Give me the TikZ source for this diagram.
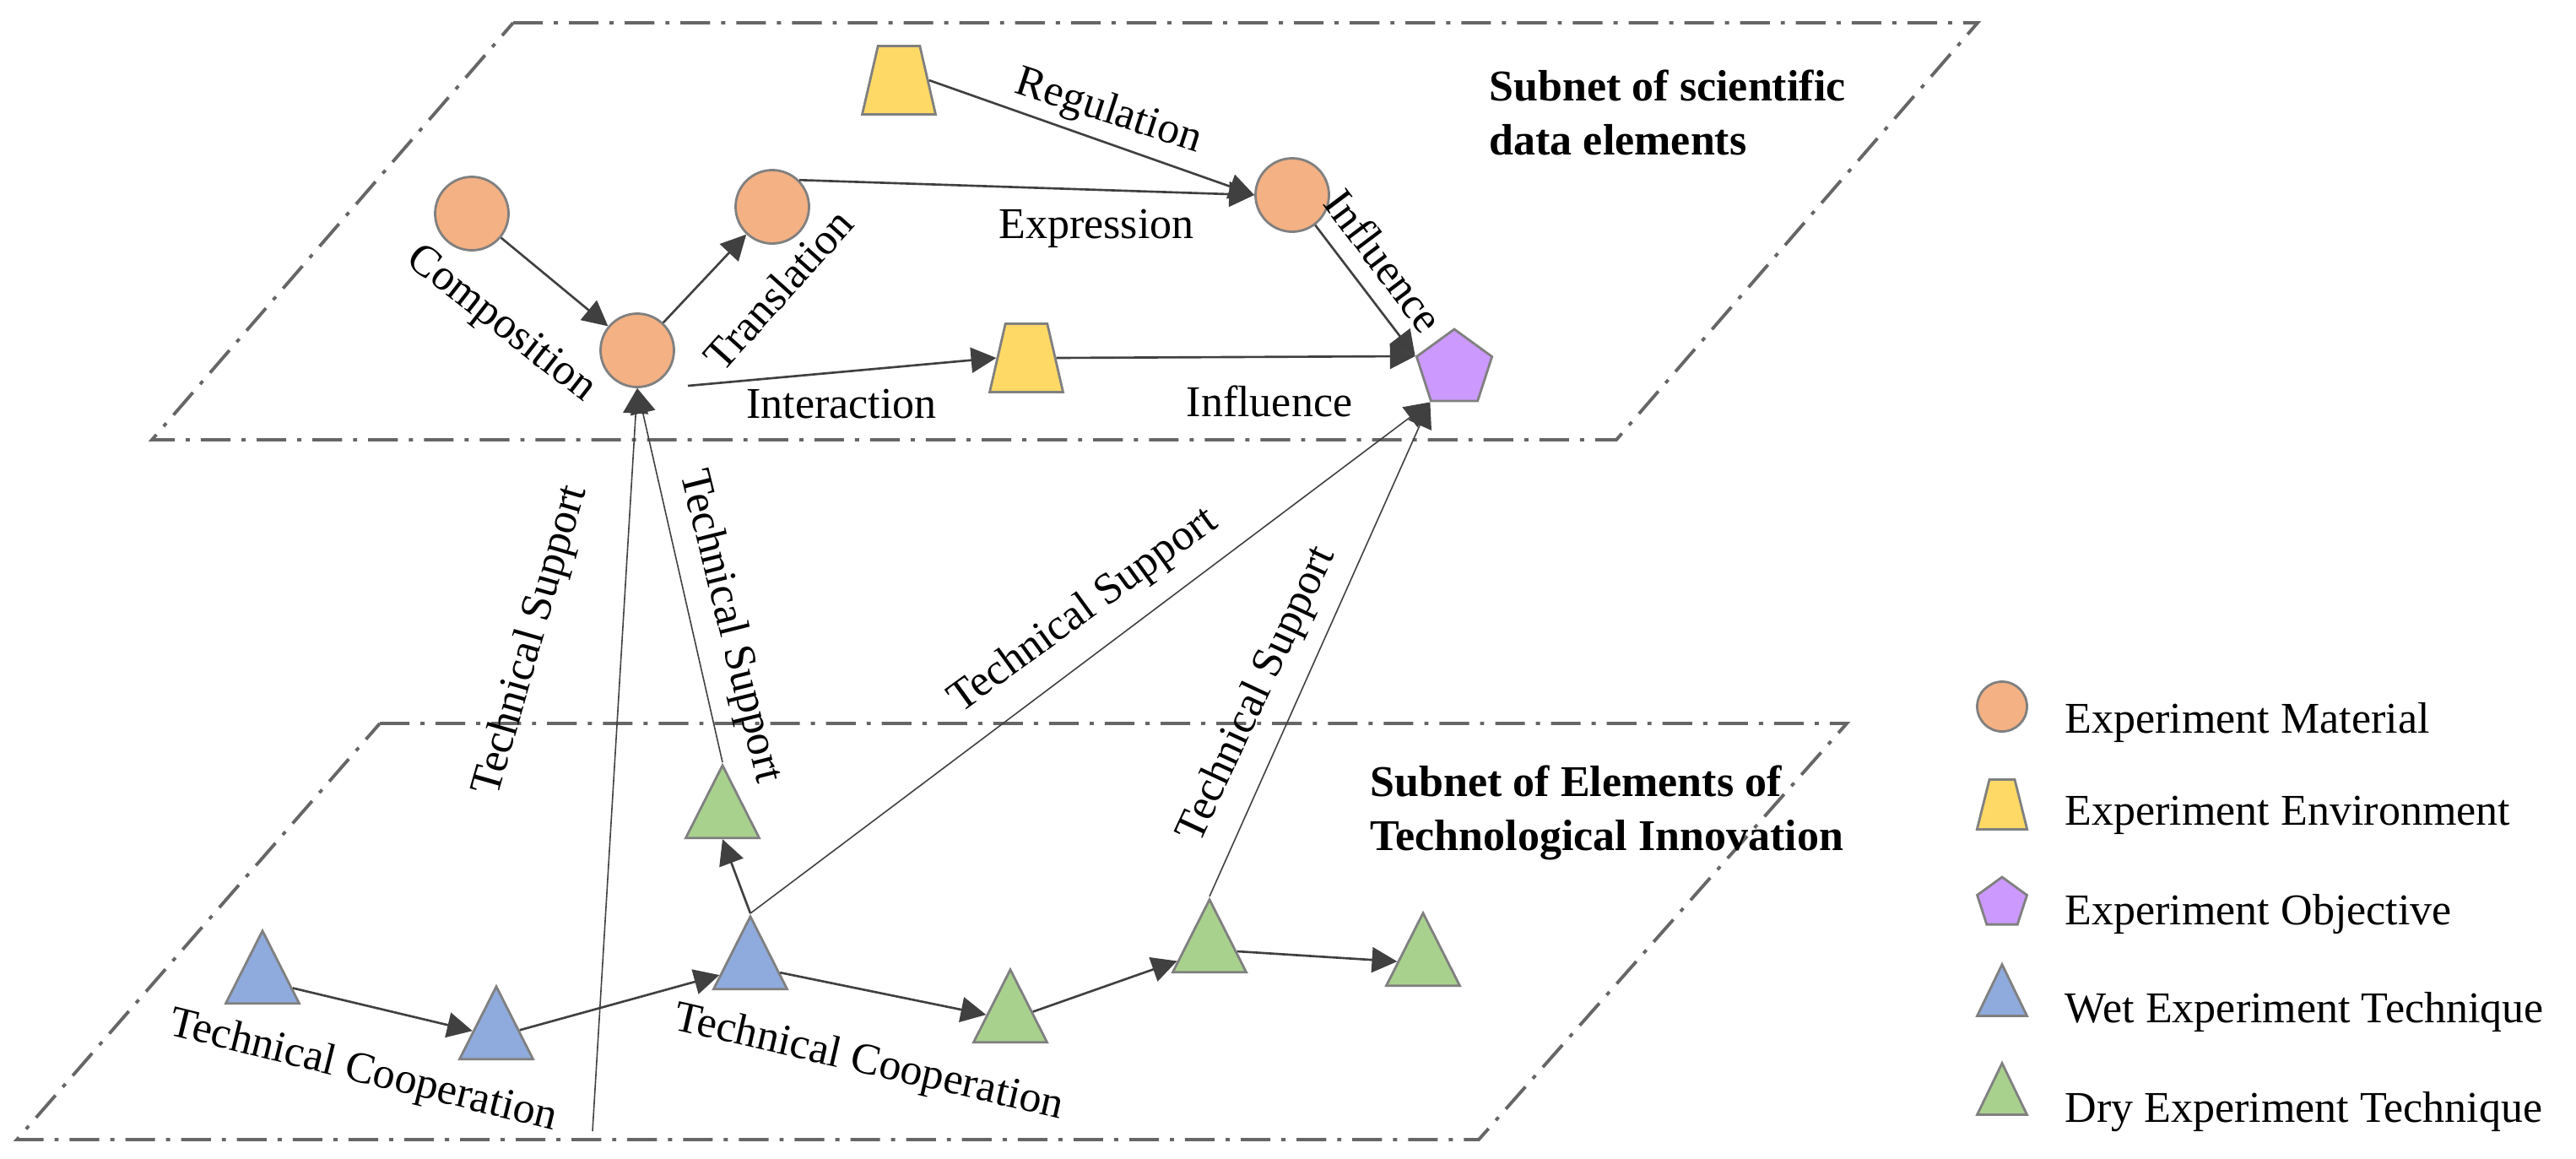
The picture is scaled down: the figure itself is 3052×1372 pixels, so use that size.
\documentclass[tikz,border=0pt]{standalone}
\usepackage{fontspec}
\setmainfont{Liberation Serif}
\usetikzlibrary{shapes.geometric,arrows.meta}

\definecolor{matfill}{HTML}{F4B183}
\definecolor{envfill}{HTML}{FFD966}
\definecolor{objfill}{HTML}{CC99FF}
\definecolor{wetfill}{HTML}{8FAADC}
\definecolor{dryfill}{HTML}{A9D18E}
\definecolor{edgegray}{HTML}{808080}
\definecolor{linegray}{HTML}{404040}
\definecolor{planegray}{HTML}{666666}

\tikzset{
  elem/.style={draw=edgegray, line width=0.8pt, inner sep=0pt},
  material/.style={elem, circle, fill=matfill, minimum size=8.7mm},
  environment/.style={elem, trapezium, trapezium angle=77, inner xsep=2.48mm, inner ysep=4.05mm, fill=envfill},
  objective/.style={elem, regular polygon, regular polygon sides=5, fill=objfill, minimum size=9.4mm},
  wettech/.style={elem, isosceles triangle, shape border rotate=90, isosceles triangle stretches,
                  fill=wetfill, minimum width=8.7mm, minimum height=8.6mm},
  drytech/.style={wettech, fill=dryfill},
  rel/.style={draw=linegray, line width=0.75pt, -{Triangle[length=8.5pt,width=8.5pt]}},
  support/.style={rel, line width=0.45pt},
  lbl/.style={font=\fontsize{14.8}{18}\selectfont, inner sep=0pt},
  subnet/.style={draw=planegray, line width=1.1pt, dash pattern=on 10pt off 3.7pt on 1.4pt off 3.7pt},
  subnettitle/.style={font=\fontsize{14.8}{18.2}\selectfont\bfseries, align=left, inner sep=0pt, anchor=north west}
}

\begin{document}
\begin{tikzpicture}[x=0.1mm, y=-0.1mm]
\useasboundingbox (0,0) rectangle (3052,1372);

% the two subnets
\draw[subnet] (608,27) -- (2343,27) -- (1915,521) -- (180,521) -- cycle;
\draw[subnet] (450,857) -- (2188,857) -- (1752,1350) -- (20,1350) -- cycle;
\node[subnettitle] (topname) at (1764,82) {Subnet of scientific\\data elements};
\node[subnettitle] (lowname) at (1623,906) {Subnet of Elements of\\Technological Innovation};

% scientific data elements
\node[material] (m1) at (559,253) {};
\node[material] (m2) at (755,415) {};
\node[material] (m3) at (915,245) {};
\node[material] (m4) at (1531,231) {};
\node[environment] (e1) at (1065,95) {};
\node[environment] (e2) at (1216,424) {};
\node[objective] (o1) at (1723,437) {};

% technological innovation elements
\node[wettech, anchor=apex] (w1) at (311,1099) {};
\node[wettech, anchor=apex] (w2) at (588,1165) {};
\node[wettech, anchor=apex] (w3) at (889,1082) {};
\node[drytech, anchor=apex] (d1) at (856,903) {};
\node[drytech, anchor=apex] (d2) at (1197,1145) {};
\node[drytech, anchor=apex] (d3) at (1433,1062) {};
\node[drytech, anchor=apex] (d4) at (1686,1078) {};

% relations in the upper subnet
\draw[rel] (m1) -- (m2);
\draw[rel] (m2) -- (m3);
\draw[rel] (m3.45) -- (m4.west);
\draw[rel] (e1.east) -- (m4.west);
\draw[rel] (m4) -- (o1.corner 2);
\draw[rel] ([shift={(60,42)}]m2.center) -- (e2.west);
\draw[rel] (e2.east) -- (o1.corner 2);

% relations in the lower subnet
\draw[rel] (w1) -- (w2);
\draw[rel] (w2) -- (w3);
\draw[rel] (w3) -- (d2);
\draw[rel] (d2) -- (d3);
\draw[rel] (d3) -- (d4);
\draw[rel] (w3.apex) -- (d1.lower side);

% technical support between the subnets
\coordinate (sbase) at (702,1340);
\draw[support] (sbase) -- (m2.south);
\draw[support] (d1.apex) -- (m2.south);
\draw[support] (w3.apex) -- (o1.corner 3);
\draw[support] (d3.apex) -- (o1.corner 3);

% labels
\node[lbl, rotate=-38] (lcomp) at (593,385) {Composition};
\node[lbl, rotate=48] (ltrans) at (922,343) {Translation};
\node[lbl, rotate=-18] (lreg) at (1313,133) {Regulation};
\node[lbl] (lexpr) at (1299,271) {Expression};
\node[lbl] (linter) at (997,479) {Interaction};
\node[lbl] (linflow) at (1504,475) {Influence};
\node[lbl, rotate=-53] (linfup) at (1640,309) {Influence};
\node[lbl, rotate=74] (lsupa) at (630,759) {Technical Support};
\node[lbl, rotate=-76] (lsupb) at (864,742) {Technical Support};
\node[lbl, rotate=36] (lsupc) at (1284,724) {Technical Support};
\node[lbl, rotate=65] (lsupd) at (1490,823) {Technical Support};
\node[lbl, rotate=-14] (lcoopa) at (430,1270) {Technical Cooperation};
\node[lbl, rotate=-13] (lcoopb) at (1029,1260) {Technical Cooperation};

% legend
\node[material, minimum size=5.9mm] (k1) at (2372,837) {};
\node[environment, trapezium angle=76, inner xsep=1.5mm, inner ysep=2.95mm] (k2) at (2372,953) {};
\node[objective, minimum size=6.2mm] (k3) at (2372,1070) {};
\node[wettech, minimum width=5.9mm, minimum height=6.1mm] (k4) at (2372,1185) {};
\node[drytech, minimum width=5.9mm, minimum height=6.1mm] (k5) at (2372,1302) {};
\node[lbl, anchor=base west] (k1t) at (2446,868) {Experiment Material};
\node[lbl, anchor=base west] (k2t) at (2446,977) {Experiment Environment};
\node[lbl, anchor=base west] (k3t) at (2446,1095) {Experiment Objective};
\node[lbl, anchor=base west] (k4t) at (2446,1211) {Wet Experiment Technique};
\node[lbl, anchor=base west] (k5t) at (2446,1329) {Dry Experiment Technique};
\end{tikzpicture}
\end{document}
